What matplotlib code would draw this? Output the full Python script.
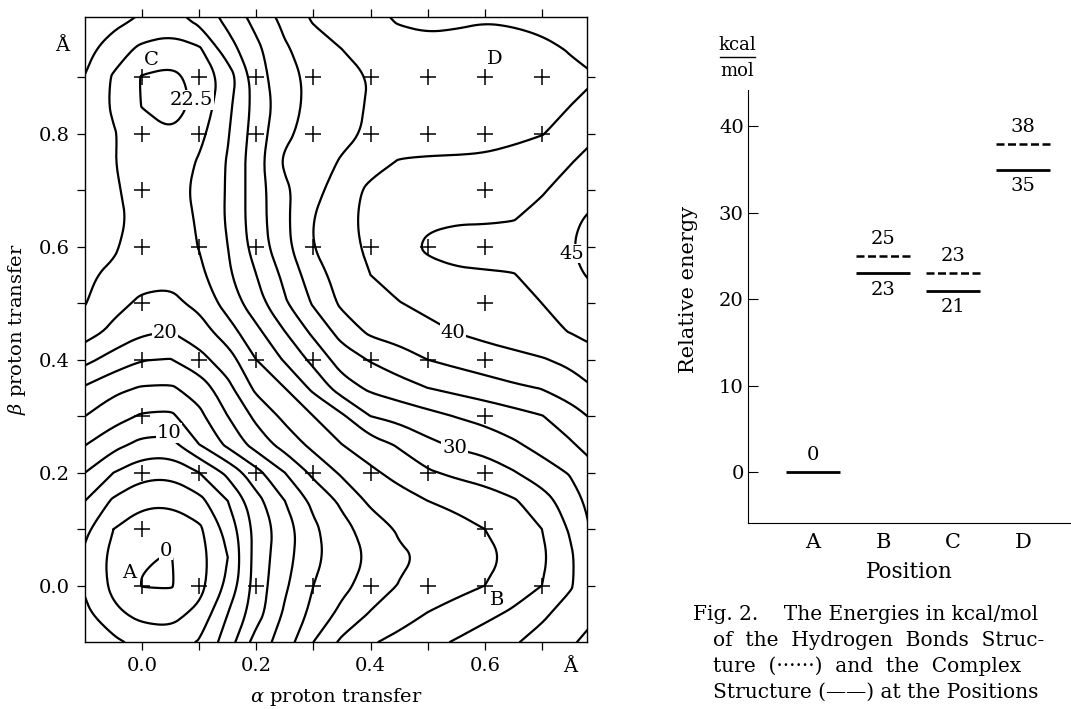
import numpy as np
import matplotlib.pyplot as plt

plt.rcParams['font.family'] = ['DejaVu Serif']
plt.rcParams['mathtext.fontset'] = 'dejavuserif'

##################################################################
# Fig. 1: potential surface, energy (kcal/mol)
alpha = [-0.1, -0.05, 0.0, 0.05, 0.1, 0.15, 0.2, 0.25, 0.3, 0.35,
         0.4, 0.45, 0.5, 0.55, 0.6, 0.65, 0.7, 0.75, 0.8]
beta = [1.05, 1.0, 0.95, 0.9, 0.85, 0.8, 0.75, 0.7, 0.65, 0.6, 0.55, 0.5, 0.45,
        0.4, 0.35, 0.3, 0.25, 0.2, 0.15, 0.1, 0.05, 0.0, -0.05, -0.1]
energy = [
    [29.8, 29.5, 28.5, 28.0, 29.5, 32.0, 34.5, 36.8, 38.6, 39.3, 40.0, 41.0, 41.8, 41.6, 41.2, 41.4, 41.9, 42.5, 43.2],
    [29.0, 28.2, 27.0, 26.3, 28.1, 30.6, 33.2, 35.6, 37.7, 38.5, 39.3, 40.2, 40.6, 40.4, 40.1, 40.3, 40.8, 41.5, 42.3],
    [28.3, 26.2, 24.4, 23.9, 24.6, 28.9, 31.9, 34.7, 36.2, 37.5, 38.3, 38.9, 39.1, 39.0, 38.8, 38.9, 39.3, 40.2, 41.0],
    [27.4, 24.7, 22.3, 21.8, 23.3, 26.0, 31.3, 34.2, 35.6, 36.7, 37.6, 38.0, 38.2, 38.1, 38.0, 38.1, 38.5, 39.3, 40.0],
    [27.0, 24.6, 22.4, 21.2, 23.2, 26.9, 30.9, 33.9, 35.8, 36.8, 37.7, 38.2, 38.4, 38.5, 38.6, 38.9, 39.4, 40.0, 40.8],
    [26.8, 25.2, 23.5, 22.7, 24.3, 27.3, 31.2, 34.5, 36.0, 37.0, 37.8, 38.5, 38.9, 39.1, 39.2, 39.4, 39.9, 41.0, 42.4],
    [26.6, 25.1, 23.8, 23.3, 25.3, 27.7, 31.5, 35.4, 36.6, 37.7, 39.0, 40.2, 40.3, 40.3, 40.4, 40.9, 41.6, 42.4, 43.5],
    [26.3, 25.3, 24.1, 23.6, 25.8, 27.7, 31.4, 34.5, 36.8, 38.7, 40.6, 41.4, 41.7, 41.8, 41.8, 41.9, 42.3, 43.4, 44.2],
    [26.0, 25.6, 24.2, 23.8, 25.3, 27.8, 31.4, 34.5, 37.5, 39.2, 40.7, 41.6, 42.2, 42.3, 42.3, 42.4, 43.2, 44.5, 45.8],
    [25.6, 25.3, 23.8, 23.5, 25.1, 27.5, 31.1, 34.3, 37.5, 39.1, 40.5, 41.7, 42.8, 43.2, 43.3, 43.5, 44.0, 44.9, 46.0],
    [25.3, 24.6, 23.4, 23.2, 24.4, 27.1, 30.0, 33.1, 36.4, 38.6, 40.0, 41.2, 41.9, 42.2, 42.3, 42.4, 43.3, 44.6, 45.5],
    [25.1, 23.3, 22.0, 21.8, 23.2, 26.0, 29.0, 32.2, 35.3, 38.0, 38.8, 39.9, 40.7, 41.3, 41.7, 42.0, 42.5, 43.5, 44.4],
    [23.6, 21.9, 20.4, 20.0, 21.3, 23.9, 26.9, 30.0, 33.1, 36.0, 38.0, 38.6, 39.3, 40.1, 40.7, 41.3, 41.9, 42.6, 43.5],
    [20.7, 19.0, 17.6, 17.4, 19.2, 21.3, 25.0, 27.8, 30.7, 33.7, 35.2, 36.4, 37.5, 38.2, 38.8, 39.3, 39.8, 40.6, 41.8],
    [17.2, 15.6, 14.8, 14.7, 16.0, 19.3, 23.1, 25.0, 28.1, 31.3, 33.0, 34.0, 35.0, 35.7, 36.4, 37.1, 37.6, 38.8, 40.2],
    [15.0, 13.5, 12.2, 12.0, 14.4, 17.5, 20.6, 23.1, 25.0, 27.1, 30.0, 30.8, 31.7, 32.6, 33.3, 34.1, 34.9, 36.4, 38.2],
    [12.6, 10.8, 9.3, 9.2, 12.5, 15.6, 18.6, 21.0, 23.2, 25.0, 26.4, 27.8, 29.4, 30.4, 31.0, 32.1, 33.4, 34.7, 36.5],
    [10.0, 7.5, 5.8, 5.6, 7.5, 10.6, 14.2, 17.5, 20.6, 22.9, 24.5, 25.9, 27.2, 28.0, 28.6, 29.8, 31.3, 32.7, 34.6],
    [7.5, 4.6, 3.1, 3.0, 4.2, 7.5, 11.6, 15.0, 18.1, 20.5, 23.0, 23.9, 25.0, 25.6, 26.3, 27.2, 28.9, 31.3, 34.0],
    [5.6, 2.5, 1.0, 0.8, 2.0, 5.9, 10.8, 13.8, 17.0, 19.2, 21.1, 22.8, 23.4, 24.2, 25.0, 26.1, 27.5, 30.3, 33.5],
    [4.4, 1.8, 0.15, -0.1, 1.5, 5.0, 11.0, 14.1, 16.9, 18.7, 20.4, 22.1, 22.9, 23.4, 24.2, 25.6, 27.0, 29.6, 33.0],
    [4.6, 1.9, -0.1, -0.2, 1.6, 5.6, 11.1, 14.6, 17.5, 19.3, 21.1, 22.6, 23.5, 24.2, 25.0, 26.2, 27.5, 29.7, 32.8],
    [5.6, 3.0, 1.8, 1.6, 3.2, 7.5, 11.4, 15.4, 18.2, 20.7, 22.7, 23.8, 25.1, 26.0, 26.9, 27.9, 29.5, 31.2, 32.4],
    [6.6, 5.6, 4.0, 3.7, 5.2, 8.7, 13.6, 16.2, 20.0, 23.0, 24.7, 25.8, 26.8, 27.7, 28.7, 29.7, 31.0, 32.2, 33.5],
]
levels = [0, 2.5, 5, 7.5, 10, 12.5, 15, 17.5, 20, 22.5, 25, 27.5, 30,
          32.5, 35, 37.5, 40, 42.5, 45]

# calculated points (+) on the map, per beta row
calc_rows = {
    0.9: [0.0, 0.1, 0.2, 0.3, 0.4, 0.5, 0.6, 0.7],
    0.8: [0.0, 0.1, 0.2, 0.3, 0.4, 0.5, 0.6, 0.7],
    0.7: [0.0, 0.6],
    0.6: [0.0, 0.1, 0.2, 0.3, 0.4, 0.5, 0.6],
    0.5: [0.0, 0.6],
    0.4: [0.0, 0.1, 0.2, 0.3, 0.4, 0.5, 0.6],
    0.3: [0.0, 0.6],
    0.2: [0.0, 0.1, 0.2, 0.3, 0.4, 0.5, 0.6],
    0.1: [0.0, 0.6],
    0.0: [0.0, 0.1, 0.2, 0.3, 0.4, 0.5, 0.6, 0.7],
}

# contour labels (text, alpha, beta)
contour_labels = [('0', 0.042, 0.062), ('10', 0.047, 0.27), ('20', 0.04, 0.448),
                  ('22.5', 0.086, 0.86), ('30', 0.547, 0.244),
                  ('40', 0.544, 0.448), ('45', 0.753, 0.588)]
point_names = [('A', -0.023, 0.022), ('B', 0.622, -0.025),
               ('C', 0.016, 0.93), ('D', 0.617, 0.932)]

# Fig. 2: relative energies (kcal/mol)
positions = ['A', 'B', 'C', 'D']
e_hbond = [0, 25, 23, 38]
e_complex = [0, 23, 21, 35]

caption = [('Fig. 2.    The Energies in kcal/mol', 693),
           ('of  the  Hydrogen  Bonds  Struc-', 713),
           ('ture  (······)  and  the  Complex', 713),
           ('Structure (——) at the Positions', 713)]
caption_y = [614, 640, 666, 692]

##################################################################

def smooth_line(pts, n=3):
    # corner cutting, so the traced contour looks hand drawn
    closed = len(pts) > 3 and np.allclose(pts[0], pts[-1])
    if closed:
        pts = pts[:-1]
    for _ in range(n):
        if closed:
            p, q = pts, np.roll(pts, -1, axis=0)
        else:
            p, q = pts[:-1], pts[1:]
        new = np.empty((2*len(p), 2))
        new[0::2] = 0.75*p + 0.25*q
        new[1::2] = 0.25*p + 0.75*q
        pts = new if closed else np.vstack([pts[0], new, pts[-1]])
    if closed:
        pts = np.vstack([pts, pts[:1]])
    return pts


fig = plt.figure(figsize=(10.71, 7.09), dpi=100)
W, H = 1071., 709.

ax = fig.add_axes([85/W, 1-642/H, (587-85)/W, (642-17)/H])
E = np.array(energy)
cs = ax.contour(alpha, beta, E, levels=levels, colors='k', linewidths=1.6)
try:
    segs = cs.allsegs
except AttributeError:
    segs = [p.to_polygons(closed_only=False) for p in cs.get_paths()]
cs.remove()
for lev_segs in segs:
    for seg in lev_segs:
        if len(seg) < 2:
            continue
        sm = smooth_line(np.asarray(seg))
        ax.plot(sm[:, 0], sm[:, 1], color='k', lw=1.6, solid_capstyle='round')

for b, alist in calc_rows.items():
    ax.plot(alist, [b]*len(alist), ls='none', marker='+', color='k',
            markersize=11, markeredgewidth=1.1, zorder=3)

for txt, x, y in contour_labels:
    ax.text(x, y, txt, fontsize=14, ha='center', va='center', zorder=4,
            bbox=dict(fc='white', ec='none', pad=0.6))
for txt, x, y in point_names:
    ax.text(x, y, txt, fontsize=14, ha='center', va='center', zorder=4)

ax.set_xlim(-0.1, 0.779)
ax.set_ylim(-0.1, 1.007)
ax.set_xticks([0.0, 0.2, 0.4, 0.6])
ax.set_xticklabels(['0.0', '0.2', '0.4', '0.6'])
ax.set_xticks([0.1, 0.3, 0.5, 0.7], minor=True)
ax.set_yticks([0.0, 0.2, 0.4, 0.6, 0.8])
ax.set_yticks([0.1, 0.3, 0.5, 0.7, 0.9], minor=True)
ax.tick_params(which='both', direction='out', length=6, width=0.9,
               top=True, right=True, labelsize=14, pad=5)
for s in ax.spines.values():
    s.set_linewidth(1.0)
ax.text(0.75, -0.128, 'Å', fontsize=14, ha='center', va='top')
ax.text(-0.128, 0.955, 'Å', fontsize=14, ha='right', va='center')
ax.set_xlabel(r'$\alpha$ proton transfer', fontsize=14, labelpad=8)
ax.set_ylabel(r'$\beta$ proton transfer', fontsize=14, labelpad=8)

# right panel
ax2 = fig.add_axes([748/W, 1-523/H, (1071-748)/W, (523-90)/H])
xpos = np.arange(1, len(positions)+1)
hw = 0.39
for i, x in enumerate(xpos):
    if i > 0:
        ax2.hlines(e_hbond[i], x-hw, x+hw, colors='k', linestyles=(0, (3.2, 1.4)),
                   linewidth=1.8)
        ax2.text(x, e_hbond[i]+0.9, str(e_hbond[i]), fontsize=14,
                 ha='center', va='bottom')
        ax2.hlines(e_complex[i], x-hw, x+hw, colors='k', linewidth=2.0)
        ax2.text(x, e_complex[i]-0.9, str(e_complex[i]), fontsize=14,
                 ha='center', va='top')
    else:
        ax2.hlines(e_complex[i], x-hw, x+hw, colors='k', linewidth=2.0)
        ax2.text(x, e_complex[i]+0.9, str(e_complex[i]), fontsize=14,
                 ha='center', va='bottom')

ax2.set_xlim(0.07, 4.684)
ax2.set_ylim(-5.9, 44.2)
ax2.spines['top'].set_visible(False)
ax2.spines['right'].set_visible(False)
ax2.set_xticks(xpos)
ax2.set_xticklabels(positions)
ax2.set_yticks([0, 10, 20, 30, 40])
ax2.tick_params(axis='y', direction='in', length=7, labelsize=14, pad=3)
ax2.tick_params(axis='x', length=0, labelsize=15, pad=7)
ax2.set_xlabel('Position', fontsize=15.5, labelpad=7)
ax2.set_ylabel('Relative energy', fontsize=15)
ax2.yaxis.set_label_coords(-0.155, 0.54)

fig.text(737/W, 1-45/H, 'kcal', fontsize=13, ha='center', va='center')
fig.add_artist(plt.Line2D([720/W, 755/W], [1-57/H, 1-57/H], color='k', lw=1.0))
fig.text(737/W, 1-71/H, 'mol', fontsize=13, ha='center', va='center')

for (line, x), y in zip(caption, caption_y):
    fig.text(x/W, 1-y/H, line, fontsize=14.5, ha='left', va='center')

plt.savefig('out.png', dpi=100, facecolor='white')
